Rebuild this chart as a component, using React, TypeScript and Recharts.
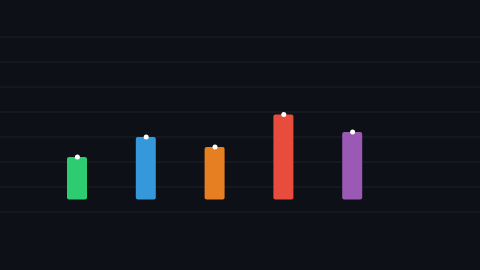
import React from "react";
import { ComposedChart, Bar, Line, XAxis, YAxis, CartesianGrid, Cell } from "recharts";

const categories = ["A", "B", "C", "D", "E"];
const lowValues = [5, 5, 5, 5, 5];
const highValues = [22, 30, 26, 39, 32];
const colors = ["#2ecc71", "#3498db", "#e67e22", "#e74c3c", "#9b59b6"];
const yTicks = [0, 10, 20, 30, 40, 50, 60, 70];

const data = categories.map((c, i) => ({
  name: c,
  range: [lowValues[i], highValues[i]],
  value: highValues[i],
}));

export default function App() {
  return (
    <div style={{ position: "absolute", left: 0, top: 0, width: 480, height: 270, background: "#0d1017" }}>
      <ComposedChart
        width={480}
        height={270}
        data={data}
        margin={{ top: 37, right: 0, bottom: 58, left: 0 }}
      >
        <CartesianGrid vertical={false} stroke="#1c2029" strokeWidth={1} />
        <XAxis dataKey="name" hide padding={{ left: 43, right: 93 }} />
        <YAxis hide domain={[0, 70]} ticks={yTicks} />
        <Bar dataKey="range" barSize={20} radius={2} isAnimationActive={false}>
          {data.map((d, i) => (
            <Cell key={d.name} fill={colors[i]} />
          ))}
        </Bar>
        <Line
          dataKey="value"
          stroke="none"
          dot={{ r: 2.5, fill: "#ffffff", stroke: "none" }}
          activeDot={false}
          isAnimationActive={false}
        />
      </ComposedChart>
    </div>
  );
}
